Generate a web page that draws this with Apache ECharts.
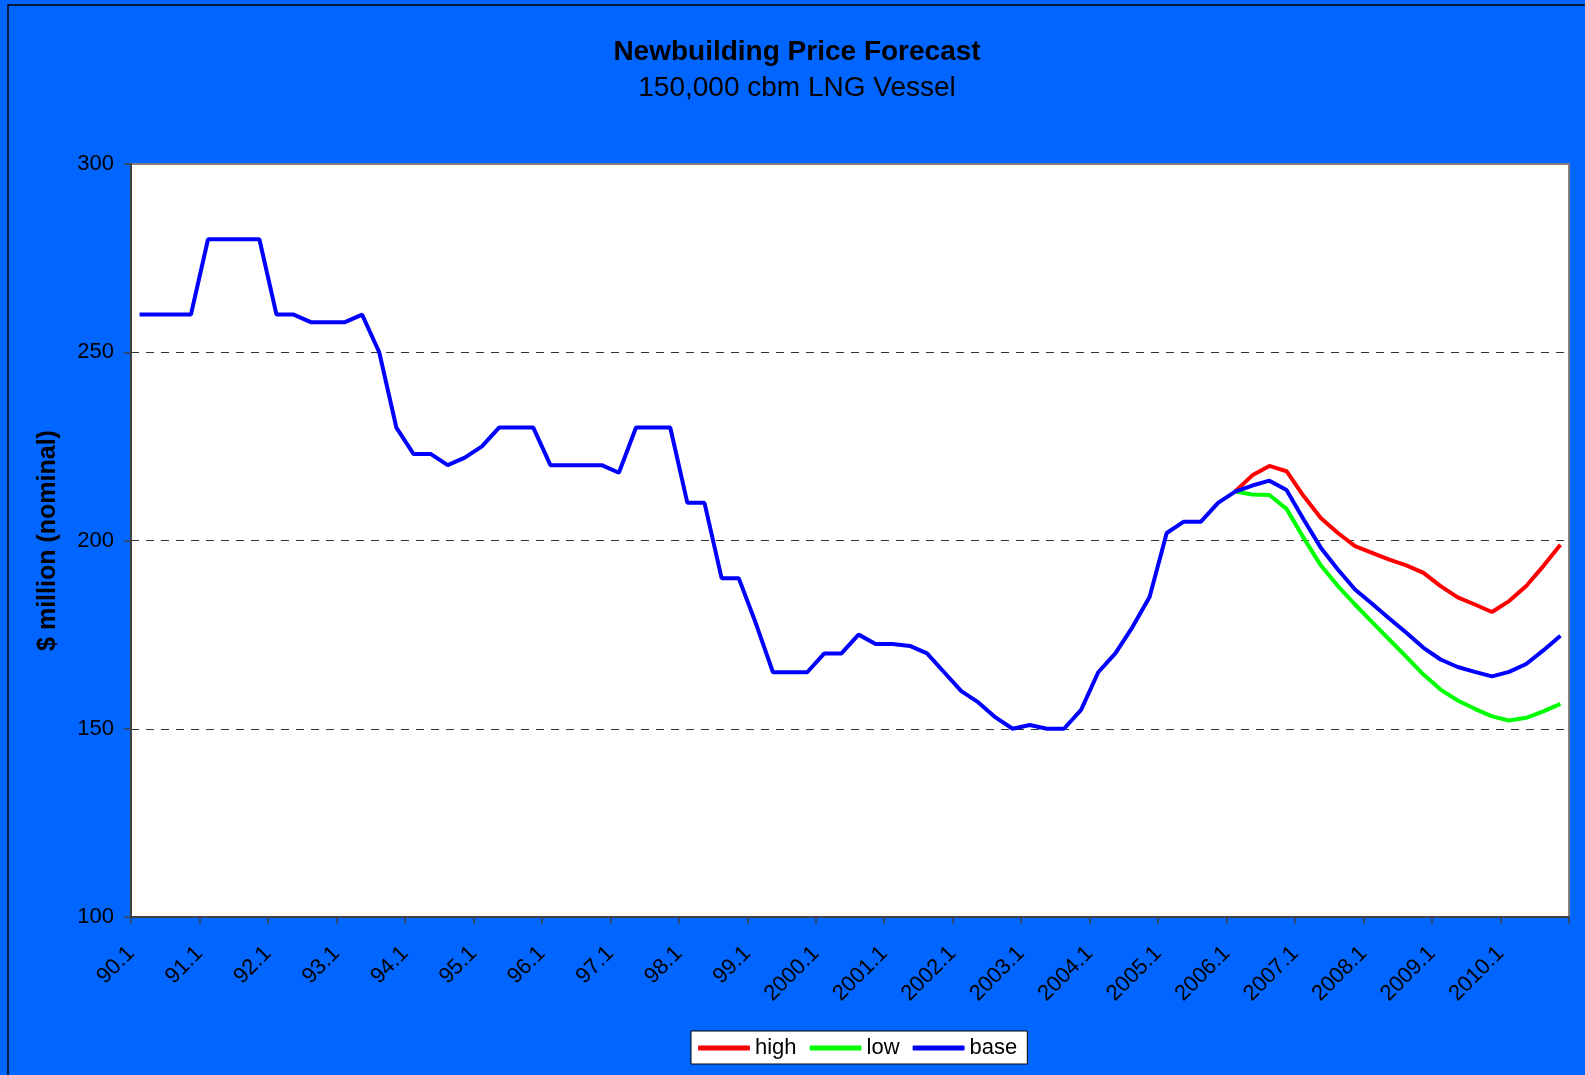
<!DOCTYPE html>
<html>
<head>
<meta charset="utf-8">
<title>Newbuilding Price Forecast</title>
<script src="https://cdn.jsdelivr.net/npm/echarts@6/dist/echarts.min.js"></script>
<style>
  html, body { margin: 0; padding: 0; background: #0066ff; }
  #chart { width: 1585px; height: 1075px; }
</style>
</head>
<body>
<div id="chart"></div>
<script>
// quarters 90.1 ... 2010.4
const years = ['90', '91', '92', '93', '94', '95', '96', '97', '98', '99', '2000',
  '2001', '2002', '2003', '2004', '2005', '2006', '2007', '2008', '2009', '2010'];
const quarters = ['1', '2', '3', '4'];

// base case, one value per quarter
const baseValues = [
  260, 260, 260, 260, 280, 280, 280, 280,
  260, 260, 258, 258, 258, 260, 250, 230,
  223, 223, 220, 222, 225, 230, 230, 230,
  220, 220, 220, 220, 218, 230, 230, 230,
  210, 210, 190, 190, 178, 165, 165, 165,
  170, 170, 175, 172.5, 172.5, 172, 170, 165,
  160, 157, 153, 150, 151, 150, 150, 155,
  165, 170, 177, 185, 202, 205, 205, 210,
  213, 214.6, 215.9, 213.4, 205.6, 198.1, 192.3, 187.0,
  183.2, 179.3, 175.5, 171.5, 168.4, 166.4, 165.1, 163.9,
  165.1, 167.2, 170.8, 174.7
];
// high / low scenarios start at 2006.1
const forecastStart = 64;
const highValues = [213, 217.3, 219.8, 218.4, 211.8, 206.0, 202.0, 198.5, 196.7, 194.9,
  193.4, 191.4, 187.9, 184.9, 183.0, 181.0, 183.9, 187.9, 193.2, 198.9];
const lowValues = [213, 212.2, 212.1, 208.4, 200.7, 193.4, 187.9, 183.0, 178.3, 173.7,
  169.1, 164.4, 160.4, 157.5, 155.3, 153.3, 152.2, 152.9, 154.6, 156.6];

const categories = [];
years.forEach(y => quarters.forEach(q => categories.push(y + '.' + q)));
// tick axis sits on category boundaries, so it needs one more slot
const tickCats = categories.concat(['']);

const pad = Array(forecastStart).fill(null);
const highData = pad.concat(highValues);
const lowData = pad.concat(lowValues);

const font = '"Liberation Sans", Arial, sans-serif';

let myChart = echarts.init(document.getElementById('chart'));
myChart.setOption({
  animation: false,
  backgroundColor: '#0066ff',
  textStyle: { fontFamily: font },
  title: {
    text: 'Newbuilding Price Forecast',
    subtext: '150,000 cbm LNG Vessel',
    left: 792,
    top: 33,
    textAlign: 'center',
    itemGap: 8,
    textStyle: { fontSize: 28, fontWeight: 'bold', color: '#000', fontFamily: font },
    subtextStyle: { fontSize: 28, color: '#000', fontFamily: font }
  },
  graphic: [{
    type: 'rect',
    silent: true,
    shape: { x: 8, y: 5, width: 1600, height: 1100 },
    style: { fill: 'none', stroke: '#000', lineWidth: 1.5 }
  }],
  legend: {
    data: ['high', 'low', 'base'],
    left: 691,
    top: 1031,
    padding: [6, 10, 5, 7],
    itemGap: 13,
    itemWidth: 52,
    itemHeight: 5,
    icon: 'roundRect',
    backgroundColor: '#fff',
    borderColor: '#000',
    borderWidth: 1,
    textStyle: { fontSize: 22, color: '#000', fontFamily: font }
  },
  grid: {
    left: 131,
    right: 16,
    top: 164,
    bottom: 158,
    containLabel: false,
    outerBoundsMode: 'none',
    show: true,
    backgroundColor: '#fff',
    borderColor: '#808080',
    borderWidth: 2
  },
  xAxis: [
    {
      // data axis: points at category centres
      type: 'category',
      data: categories,
      boundaryGap: true,
      show: false
    },
    {
      // label axis: ticks and labels on the boundaries
      type: 'category',
      data: tickCats,
      boundaryGap: false,
      position: 'bottom',
      axisLine: { lineStyle: { color: '#404040', width: 2 } },
      axisTick: { interval: 3, length: 7, lineStyle: { color: '#404040', width: 1.5 } },
      axisLabel: {
        interval: 3,
        rotate: 45,
        margin: 33,
        fontSize: 22,
        color: '#000',
        fontFamily: font
      },
      splitLine: { show: false }
    }
  ],
  yAxis: {
    type: 'value',
    min: 100,
    max: 300,
    interval: 50,
    name: '$ million (nominal)',
    nameLocation: 'middle',
    nameGap: 70,
    nameTextStyle: { fontSize: 25, fontWeight: 'bold', color: '#000', fontFamily: font },
    axisLine: { show: true, lineStyle: { color: '#404040', width: 2 } },
    axisTick: { show: true, length: 7, lineStyle: { color: '#404040', width: 1.5 } },
    axisLabel: { fontSize: 22, margin: 17, color: '#000', fontFamily: font },
    splitLine: {
      show: true,
      showMinLine: false,
      showMaxLine: false,
      lineStyle: { type: [8, 7], color: '#333', width: 1 }
    }
  },
  series: [
    {
      name: 'high',
      type: 'line',
      xAxisIndex: 0,
      data: highData,
      showSymbol: false,
      symbol: 'none',
      color: '#ff0000',
      lineStyle: { color: '#ff0000', width: 4 }
    },
    {
      name: 'low',
      type: 'line',
      xAxisIndex: 0,
      data: lowData,
      showSymbol: false,
      symbol: 'none',
      color: '#00ff00',
      lineStyle: { color: '#00ff00', width: 4 }
    },
    {
      name: 'base',
      type: 'line',
      xAxisIndex: 0,
      data: baseValues,
      showSymbol: false,
      symbol: 'none',
      color: '#0000ff',
      lineStyle: { color: '#0000ff', width: 4 }
    }
  ]
});
window.onresize = myChart.resize;
</script>
</body>
</html>
